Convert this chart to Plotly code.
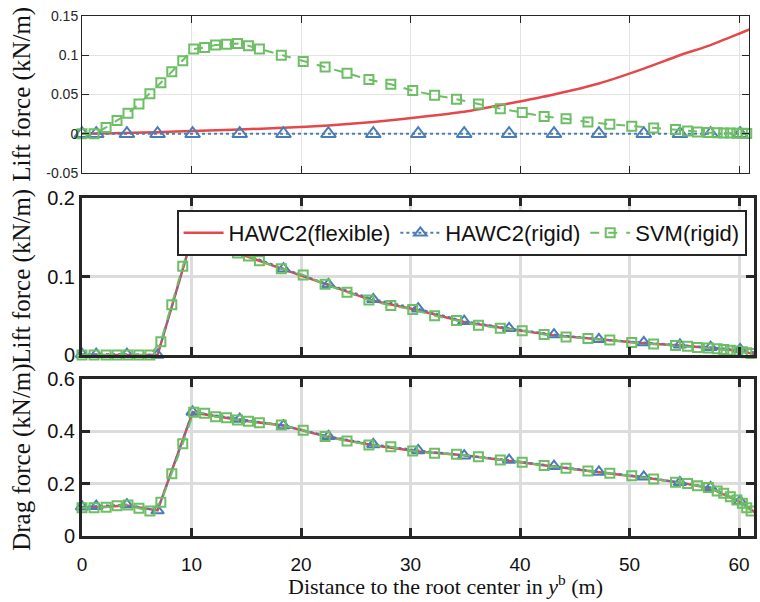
import plotly.graph_objects as go
from plotly.subplots import make_subplots

# Spanwise stations along the blade (m)
x_hawc2 = [0, 1.3, 4.1, 6.9, 10.1, 14.4, 18.4, 22.5, 26.6, 30.7, 34.9, 39.0,
           43.1, 47.2, 51.3, 54.6, 57.4, 60.1, 61.5]
x_svm = [0, 1.1, 2.2, 3.2, 4.2, 5.2, 6.2, 7.2, 8.2, 9.2, 10.2, 11.2, 12.2, 13.2,
         14.2, 15.2, 16.2, 18.2, 20.2, 22.2, 24.2, 26.2, 28.2, 30.2, 32.2, 34.2,
         36.2, 38.2, 40.2, 42.2, 44.2, 46.2, 48.2, 50.2, 52.2, 54.2, 55.3, 56.2,
         57.2, 58.0, 58.6, 59.2, 59.8, 60.3, 60.7, 61.1, 61.5]

# Panel 1: lift force (kN/m)
lift1_flex = [0, 0.0003, 0.001, 0.002, 0.0035, 0.0055, 0.0075, 0.0105, 0.015,
              0.021, 0.028, 0.0385, 0.050, 0.064, 0.083, 0.100, 0.113, 0.128, 0.136]
lift1_rigid = [0.0] * 19
lift1_svm = [0.0, 0.0, 0.008, 0.017, 0.026, 0.038, 0.051, 0.065, 0.079, 0.093,
             0.108, 0.110, 0.113, 0.114, 0.115, 0.112, 0.108, 0.100, 0.092, 0.085,
             0.077, 0.069, 0.063, 0.055, 0.049, 0.044, 0.038, 0.032, 0.027, 0.022,
             0.019, 0.015, 0.012, 0.0096, 0.0074, 0.0054, 0.0036, 0.0023, 0.0015,
             0.0012, 0.001, 0.0008, 0.0006, 0.0005, 0.0004, 0.0003, 0.0002]

# Panel 2: lift force (kN/m)
lift2_flex = [0, 0, 0, 0, 0.152, 0.129, 0.109, 0.089, 0.069, 0.057, 0.042, 0.033,
              0.025, 0.020, 0.015, 0.012, 0.009, 0.005, 0.001]
lift2_rigid = [0.001, 0.001, 0.001, 0, 0.152, 0.131, 0.110, 0.090, 0.071, 0.059,
               0.043, 0.034, 0.026, 0.020, 0.016, 0.013, 0.010, 0.007, 0.003]
lift2_svm = [0, 0, 0, 0, 0, 0, 0, 0.017, 0.064, 0.113, 0.152, 0.147, 0.142, 0.137,
             0.130, 0.126, 0.120, 0.110, 0.102, 0.090, 0.080, 0.070, 0.063, 0.058,
             0.050, 0.044, 0.038, 0.034, 0.031, 0.026, 0.023, 0.021, 0.019, 0.016,
             0.014, 0.012, 0.011, 0.0097, 0.009, 0.008, 0.007, 0.006, 0.005, 0.004,
             0.003, 0.002, 0.001]

# Panel 3: drag force (kN/m)
drag_flex = [0.110, 0.110, 0.117, 0.098, 0.472, 0.443, 0.422, 0.378, 0.347, 0.323,
             0.309, 0.287, 0.264, 0.244, 0.224, 0.204, 0.182, 0.130, 0.088]
drag_rigid = [0.112, 0.114, 0.120, 0.097, 0.474, 0.447, 0.422, 0.381, 0.350, 0.327,
              0.307, 0.290, 0.267, 0.245, 0.226, 0.205, 0.186, 0.133, 0.090]
drag_svm = [0.108, 0.108, 0.110, 0.116, 0.118, 0.106, 0.096, 0.129, 0.238, 0.353,
            0.473, 0.469, 0.456, 0.452, 0.443, 0.439, 0.433, 0.424, 0.404, 0.380,
            0.363, 0.348, 0.341, 0.325, 0.316, 0.312, 0.303, 0.290, 0.282, 0.269,
            0.259, 0.248, 0.240, 0.230, 0.218, 0.205, 0.201, 0.192, 0.185, 0.172,
            0.163, 0.150, 0.138, 0.125, 0.108, 0.096, 0.090]

x_ticks = [0, 10, 20, 30, 40, 50, 60]
y1_ticks = [-0.05, 0, 0.05, 0.1, 0.15]
y1_text = ["-0.05", "0", "0.05", "0.1", "0.15"]
y2_ticks = [0, 0.1, 0.2]
y2_text = ["0", "0.1", "0.2"]
y3_ticks = [0, 0.2, 0.4, 0.6]
y3_text = ["0", "0.2", "0.4", "0.6"]

RED = "#e5484a"
BLUE = "#4a7db5"
GREEN = "#6dbe65"
INK = "#262626"
SANS = "Liberation Sans, Arial, sans-serif"
SERIF = "Liberation Serif, Times New Roman, serif"

W, H = 760, 602
ML, MR, MT, MB = 82, 3, 16, 66
PW, PH = W - ML - MR, H - MT - MB
PX_PER_M = 11.0


def py(ypx):
    return (H - MB - ypx) / PH


def px(xpx):
    return (xpx - ML) / PW


fig = make_subplots(rows=3, cols=1)

panels = [
    (1, lift1_flex, lift1_rigid, lift1_svm, 13, 9),
    (2, lift2_flex, lift2_rigid, lift2_svm, 11, 9),
    (3, drag_flex, drag_rigid, drag_svm, 11, 9),
]
for row, flex, rigid, svm, tri, sq in panels:
    show = row == 2
    red_line = dict(color=RED, width=2.5)
    if row == 1:
        red_line.update(shape="spline", smoothing=0.6)
    fig.add_trace(go.Scatter(
        x=x_hawc2, y=flex, mode="lines", name="HAWC2(flexible)",
        line=red_line, showlegend=show, cliponaxis=False),
        row=row, col=1)
    fig.add_trace(go.Scatter(
        x=x_hawc2, y=rigid, mode="lines+markers", name="HAWC2(rigid)",
        line=dict(color=BLUE, width=2, dash="dot"),
        marker=dict(symbol="triangle-up-open", size=tri, color=BLUE,
                    line=dict(width=2, color=BLUE)),
        showlegend=show, cliponaxis=False), row=row, col=1)
    fig.add_trace(go.Scatter(
        x=x_svm, y=svm, mode="lines+markers", name="SVM(rigid)",
        line=dict(color=GREEN, width=2, dash="dash"),
        marker=dict(symbol="square-open", size=sq, color=GREEN,
                    line=dict(width=2, color=GREEN)),
        showlegend=show, cliponaxis=False), row=row, col=1)

# Axis geometry (pixels from the top of the page)
top_right = 752
fig.update_layout(
    xaxis=dict(domain=[0, px(top_right)], range=[0, (top_right - ML) / PX_PER_M]),
    xaxis2=dict(domain=[0, 1], range=[0, PW / PX_PER_M]),
    xaxis3=dict(domain=[0, 1], range=[0, PW / PX_PER_M]),
    yaxis=dict(domain=[py(173), py(16)], range=[-0.05, 0.15],
               tickvals=y1_ticks, ticktext=y1_text),
    yaxis2=dict(domain=[py(355), py(198)], range=[0, 0.2],
                tickvals=y2_ticks, ticktext=y2_text),
    yaxis3=dict(domain=[py(536), py(379)], range=[0, 0.6],
                tickvals=y3_ticks, ticktext=y3_text),
)

thin = dict(showline=True, linewidth=1, linecolor=INK, mirror="ticks",
            ticks="inside", ticklen=7, tickwidth=1, tickcolor=INK,
            showgrid=True, gridcolor="#e3e3e3", gridwidth=1.2, zeroline=False,
            tickfont=dict(family=SANS, size=14, color=INK))
thick = dict(showline=True, linewidth=3, linecolor=INK, mirror="ticks",
             ticks="inside", ticklen=8, tickwidth=3, tickcolor=INK,
             showgrid=True, gridcolor="#dcdcdc", gridwidth=2.5, zeroline=False,
             tickfont=dict(family=SANS, size=20, color="#111111"))

fig.update_xaxes(tickvals=x_ticks, showticklabels=False)
fig.update_xaxes(thin, row=1, col=1)
fig.update_yaxes(thin, row=1, col=1)
for r in (2, 3):
    fig.update_xaxes(thick, row=r, col=1)
    fig.update_yaxes(thick, row=r, col=1)
fig.update_xaxes(showticklabels=True, ticklabelstandoff=9,
                 tickfont=dict(family=SANS, size=19, color="#111111"), row=3, col=1)

# Axis titles
ytitles = [("Lift force (kN/m)", 16, 173),
           ("Lift force (kN/m)", 198, 355),
           ("Drag force (kN/m)", 379, 536)]
annotations = []
for text, t, b in ytitles:
    annotations.append(dict(
        text=text, textangle=-90, xref="paper", yref="paper",
        x=px(21), y=py((t + b) / 2), xanchor="center", yanchor="middle",
        showarrow=False, font=dict(family=SERIF, size=25, color="#111111")))
annotations.append(dict(
    text="Distance to the root center in <i>y</i><sup>b</sup> (m)",
    xref="paper", yref="paper", x=px(447), y=py(585),
    xanchor="center", yanchor="middle", showarrow=False,
    font=dict(family=SERIF, size=22, color="#111111")))

fig.update_layout(
    width=W, height=H,
    margin=dict(l=ML, r=MR, t=MT, b=MB, pad=0),
    paper_bgcolor="white", plot_bgcolor="white",
    annotations=annotations,
    legend=dict(
        orientation="h", x=px(177), y=py(210), xanchor="left", yanchor="top",
        bgcolor="white", bordercolor=INK, borderwidth=2,
        font=dict(family=SANS, size=22, color="#111111"),
        itemwidth=40, tracegroupgap=0),
)

fig.write_html("out.html")
